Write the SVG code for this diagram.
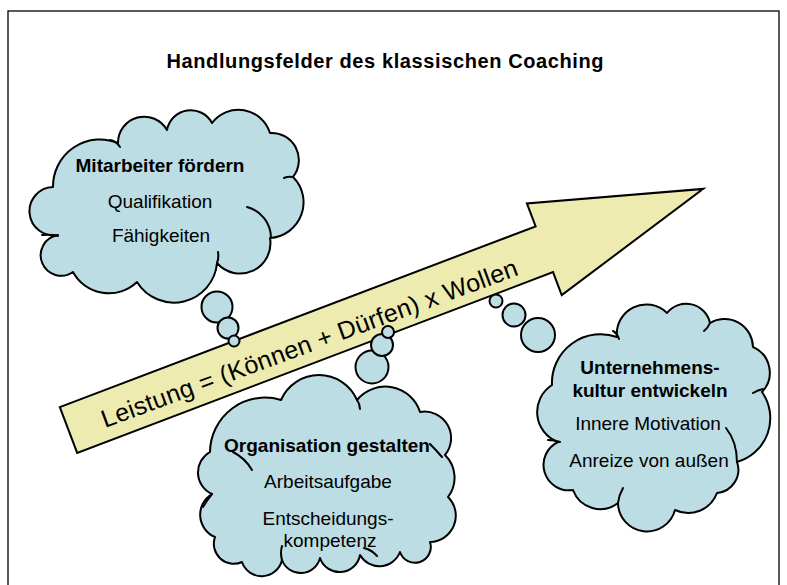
<svg xmlns="http://www.w3.org/2000/svg" width="787" height="585" viewBox="0 0 787 585">
<style>
.frame{fill:#fff;stroke:#000;stroke-width:1.3}
.cloud{fill:#BCDDE3;stroke:#000;stroke-width:2;stroke-linejoin:round}
.fold{fill:none;stroke:#000;stroke-width:2;stroke-linecap:round}
.arrow{fill:#EDEBAF;stroke:#000;stroke-width:2;stroke-linejoin:miter}
text{font-family:"Liberation Sans",Arial,sans-serif;fill:#000}
.t{font-size:19px;text-anchor:middle}
.b{font-weight:bold}
.title{font-size:20px;font-weight:bold;text-anchor:middle}
.at{font-size:25px}
</style>
<rect class="frame" x="8" y="11" width="771" height="600"/>
<text class="title" x="385" y="68" textLength="437" lengthAdjust="spacing">Handlungsfelder des klassischen Coaching</text>
<g id="connectors">
<g id="arrow">
<polygon class="arrow" transform="translate(68.5,430) rotate(-20.8)" points="0,-24.5 509,-24.5 509,-49 679,0 509,49 509,24.5 0,24.5"/>
<text class="at" transform="translate(105,428) rotate(-20.3)" x="0" y="0" textLength="442" lengthAdjust="spacing">Leistung = (Können + Dürfen) x Wollen</text>
</g>
</g>
<g id="node-mitarbeiter">
<path class="cloud" d="M53,187 A47,47 0 0 1 118,143 A26.2,26.2 0 0 1 167,130 A24.1,24.1 0 0 1 212,123 A33,33 0 0 1 270,133 A27.2,27.2 0 0 1 293,177 A35.7,35.7 0 0 1 270,238 A30.4,30.4 0 0 1 217,263 A43.3,43.3 0 0 1 137,282 A40.7,40.7 0 0 1 73,272 A20.5,20.5 0 1 1 58,235 A24.2,24.2 0 1 1 53,187 Z"/>
<path class="fold" d="M110,140 Q116,141 120,147 M247,207 A32,32 0 0 1 271,238 M42,235 Q51,234 58,236 M217,263 Q219,258 218,252 M293,177 Q288,176 284,178"/>
<circle class="cloud" cx="217" cy="307" r="15.5"/>
<circle class="cloud" cx="228" cy="328" r="10.5"/>
<circle class="cloud" cx="234" cy="341" r="5.5"/>
<text class="t b" x="160" y="172">Mitarbeiter fördern</text>
<text class="t" x="160" y="208">Qualifikation</text>
<text class="t" x="161" y="242">Fähigkeiten</text>
</g>
<g id="node-organisation">
<path class="cloud" d="M210,452 A55,55 0 0 1 281,400 A41.4,41.4 0 0 1 357,400 A36.5,36.5 0 0 1 420,412 A26.5,26.5 0 0 1 445,455 A31.7,31.7 0 0 1 448,497 A26.3,26.3 0 0 1 430,542 A14.4,14.4 0 0 1 400,552 A22.2,22.2 0 0 1 360,555 A20.7,20.7 0 0 1 320,558 A19.9,19.9 0 0 1 282,560 A20.8,20.8 0 0 1 242,562 A20,20 0 0 1 215,537 A24.1,24.1 0 0 1 212,494 A23.5,23.5 0 0 1 210,452 Z"/>
<path class="fold" d="M233,452 Q245,458 252,470 M442,457 Q436,450 430,444 M212,494 Q207,500 203,507 M282,560 Q280,553 282,546 M357,400 Q360,404 360,409 M364,548 Q372,550 377,556"/>
<circle class="cloud" cx="372" cy="367" r="16.5"/>
<circle class="cloud" cx="382" cy="345" r="11"/>
<circle class="cloud" cx="388" cy="332" r="6"/>
<text class="t b" x="327" y="452">Organisation gestalten</text>
<text class="t" x="328" y="488">Arbeitsaufgabe</text>
<text class="t" x="328" y="525">Entscheidungs-</text>
<text class="t" x="330" y="547">kompetenz</text>
</g>
<g id="node-unternehmenskultur">
<path class="cloud" d="M552,385 A48.7,48.7 0 0 1 617,337 A29.4,29.4 0 0 1 667,313 A24.4,24.4 0 0 1 710,323 A28.5,28.5 0 0 1 753,347 A28,28 0 0 1 762,392 A45.5,45.5 0 0 1 737,462 A23.3,23.3 0 0 1 717,493 A30.7,30.7 0 0 1 675,510 A29,29 0 0 1 618,503 A29,29 0 0 1 573,490 A25.4,25.4 0 0 1 558,442 A32,32 0 0 1 552,385 Z"/>
<path class="fold" d="M613,331 Q617,333 619,339 M726,428 Q737,442 737,462 M753,393 Q758,390 763,389 M618,503 Q619,495 623,488 M548,440 Q554,440 560,442 M710,323 Q708,328 704,331"/>
<circle class="cloud" cx="496" cy="301" r="6.5"/>
<circle class="cloud" cx="514" cy="315" r="11.5"/>
<circle class="cloud" cx="538" cy="335" r="17"/>
<text class="t b" x="650" y="374">Unternehmens-</text>
<text class="t b" x="650" y="397">kultur entwickeln</text>
<text class="t" x="648" y="430">Innere Motivation</text>
<text class="t" x="649" y="467">Anreize von außen</text>
</g>
</svg>
